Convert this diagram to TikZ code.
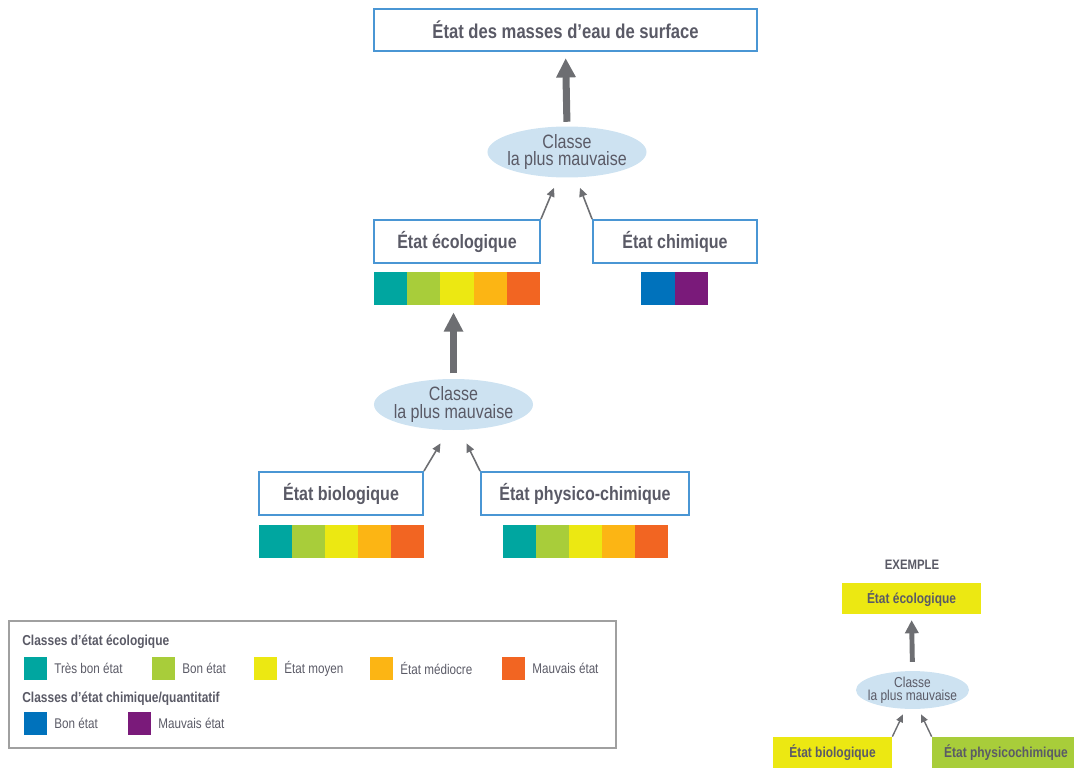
\documentclass[tikz,border=0pt]{standalone}
\usepackage{fontspec}
\setmainfont{Liberation Sans}[FakeStretch=0.83]
\usetikzlibrary{arrows.meta,calc,positioning,shapes.geometric}

\definecolor{txtgrey}{RGB}{90,90,102}
\definecolor{frameblue}{RGB}{74,150,212}
\definecolor{ellblue}{RGB}{205,226,241}
\definecolor{arrgrey}{RGB}{109,110,114}
\definecolor{legframe}{RGB}{160,160,160}
\definecolor{tresbon}{RGB}{0,166,160}
\definecolor{bon}{RGB}{168,205,58}
\definecolor{moyen}{RGB}{236,232,18}
\definecolor{mediocre}{RGB}{252,181,20}
\definecolor{mauvais}{RGB}{242,101,34}
\definecolor{chbon}{RGB}{0,114,188}
\definecolor{chmauvais}{RGB}{122,26,122}

\begin{document}
\begin{tikzpicture}[
                x=0.02cm,y=-0.02cm,
                every node/.style={text=txtgrey},
                statebox/.style={draw=frameblue,line width=1.1pt,fill=white,inner sep=0pt,
                    minimum width=#1,minimum height=0.86cm,font=\bfseries\fontsize{11}{13}\selectfont},
                worst/.style={ellipse,fill=ellblue,inner xsep=-2pt,inner ysep=0pt,minimum width=3.16cm,minimum height=1.02cm,
                    align=center,font=\fontsize{11}{10}\selectfont},
                swatch/.style={fill=#1,inner sep=0pt,minimum width=0.664cm,minimum height=0.66cm},
                lswatch/.style={fill=#1,inner sep=0pt,minimum size=0.46cm},
                legtext/.style={anchor=west,inner sep=0pt,font=\fontsize{8}{9}\selectfont},
                leghead/.style={anchor=west,inner sep=0pt,font=\bfseries\fontsize{8.2}{9}\selectfont},
                exbox/.style={fill=#1,inner sep=0pt,minimum height=0.62cm,font=\bfseries\fontsize{8.2}{9}\selectfont},
                bigarrow/.style={draw=arrgrey,line width=4pt,-{Triangle[width=10.5pt,length=11pt]},
                    shorten <=2.5pt,shorten >=3.5pt},
                smallarrow/.style={draw=arrgrey,line width=0.9pt,-{Triangle[width=4.5pt,length=5pt]}}
            ]
                \useasboundingbox (0,0) rectangle (1074,767);

                % top of the tree
                \node[statebox=7.66cm,minimum height=0.84cm,font=\bfseries\fontsize{11.4}{13}\selectfont]
                    (surface) at (565.5,30) {État des masses d’eau de surface};
                \node[worst] (worst1) at (567,152) {Classe\\la plus mauvaise};
                \node[statebox=3.32cm] (eco) at (457,241.5) {État écologique};
                \node[statebox=3.28cm] (chim) at (675,241.5) {État chimique};

                \foreach \c [count=\i] in {tresbon,bon,moyen,mediocre,mauvais}
                    \node[swatch=\c] (eco-\i) at ({374+(\i-0.5)*33.2},288.5) {};
                \foreach \c [count=\i] in {chbon,chmauvais}
                    \node[swatch=\c,minimum width=0.67cm] (chim-\i) at ({641+(\i-0.5)*33.5},288.5) {};

                \draw[bigarrow] (worst1.north) -- (surface.south);
                \draw[smallarrow] (eco.north east) -- ($(worst1.south)+(-13,10)$);
                \draw[smallarrow] (chim.north west) -- ($(worst1.south)+(13,10)$);

                % lower level
                \node[worst,minimum width=3.14cm] (worst2) at (453.5,404.5) {Classe\\la plus mauvaise};
                \node[statebox=3.28cm] (bio) at (341,493.5) {État biologique};
                \node[statebox=4.16cm] (phys) at (585,493.5) {État physico-chimique};

                \foreach \c [count=\i] in {tresbon,bon,moyen,mediocre,mauvais} {
                    \node[swatch=\c,minimum width=0.66cm] (bio-\i) at ({259+(\i-0.5)*33},541.5) {};
                    \node[swatch=\c,minimum width=0.66cm] (phys-\i) at ({503+(\i-0.5)*33},541.5) {};
                }

                \draw[bigarrow,shorten <=3pt,shorten >=4pt] (worst2.north) -- (worst2.north |- eco-3.south);
                \draw[smallarrow] (bio.north east) -- ($(worst2.south)+(-13,13)$);
                \draw[smallarrow] (phys.north west) -- ($(worst2.south)+(13,13)$);

                % legend
                \draw[draw=legframe,line width=1pt] (9,621) rectangle (616,748);
                \node[leghead] (head-eco) at (22,641.5) {Classes d’état écologique};
                \foreach \x/\c/\t [count=\i] in {24/tresbon/Très bon état,152/bon/Bon état,
                        254/moyen/État moyen,370/mediocre/État médiocre,502/mauvais/Mauvais état} {
                    \node[lswatch=\c] (leg-\i) at (\x+11.5,668.5) {};
                    \node[legtext] (legt-\i) at (\x+30,668.5) {\t};
                }
                \node[leghead] (head-chim) at (22,699) {Classes d’état chimique/quantitatif};
                \foreach \x/\c/\t [count=\i] in {24/chbon/Bon état,128/chmauvais/Mauvais état} {
                    \node[lswatch=\c] (legc-\i) at (\x+11.5,723.5) {};
                    \node[legtext] (legct-\i) at (\x+30,723.5) {\t};
                }

                % example
                \node[font=\bfseries\fontsize{7.8}{9}\selectfont] (exemple) at (912,565) {EXEMPLE};
                \node[exbox=moyen,minimum width=2.78cm] (execo) at (911.5,598.5) {État écologique};
                \node[worst,inner xsep=-2.8pt,minimum width=2.26cm,minimum height=0.72cm,font=\fontsize{8.2}{7.6}\selectfont]
                    (exworst) at (912.5,690) {Classe\\la plus mauvaise};
                \node[exbox=moyen,minimum width=2.38cm] (exbio) at (832.5,752.5) {État biologique};
                \node[exbox=bon,minimum width=2.96cm] (exphys) at (1006,752.5) {État physicochimique};

                \draw[bigarrow,line width=2.8pt,-{Triangle[width=7.5pt,length=7.5pt]},shorten <=5pt,shorten >=3.3pt]
                    (exworst.north) -- (execo.south);
                \draw[smallarrow,line width=0.8pt,-{Triangle[width=4pt,length=4.5pt]}]
                    (exbio.north east) -- ($(exworst.south)+(-9.5,5)$);
                \draw[smallarrow,line width=0.8pt,-{Triangle[width=4pt,length=4.5pt]}]
                    (exphys.north west) -- ($(exworst.south)+(8.5,5)$);
            \end{tikzpicture}
\end{document}
